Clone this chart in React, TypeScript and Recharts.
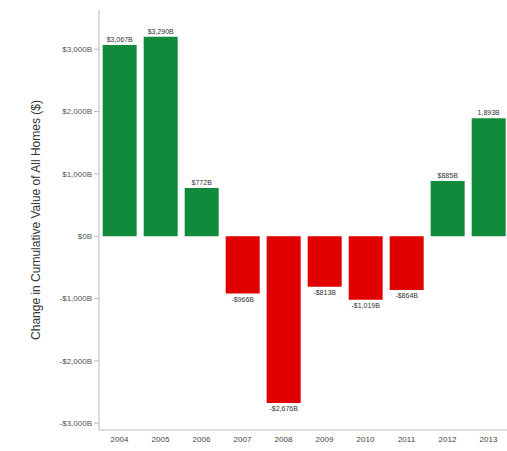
import React from "react";
import { BarChart, Bar, XAxis, YAxis, Cell, LabelList } from "recharts";

const years = ["2004", "2005", "2006", "2007", "2008", "2009", "2010", "2011", "2012", "2013"];
const changes = [3067, 3200, 772, -920, -2676, -813, -1019, -864, 885, 1893];
const valueLabels = ["$3,067B", "$3,290B", "$772B", "-$966B", "-$2,676B", "-$813B", "-$1,019B", "-$864B", "$885B", "1,893B"];
const yTicks = [3000, 2000, 1000, 0, -1000, -2000, -3000];

const data = years.map((y, i) => ({ year: y, value: changes[i], label: valueLabels[i] }));

const fmtTick = (v: number) => {
  if (v === 0) return "$0B";
  const s = Math.abs(v).toLocaleString("en-US");
  return (v < 0 ? "-$" : "$") + s + "B";
};

const GREEN = "#128a3c";
const RED = "#e00000";
const FONT = "Arial, 'Liberation Sans', sans-serif";

const BarLabel = (props: any) => {
  const { x, y, width, height, index } = props;
  const v = changes[index];
  const cx = x + width / 2;
  const top = Math.min(y, y + height);
  const bottom = Math.max(y, y + height);
  if (v >= 0) {
    return (
      <text x={cx} y={top - 3} textAnchor="middle" fontSize={7} fill="#333" fontFamily={FONT}>
        {valueLabels[index]}
      </text>
    );
  }
  return (
    <text x={cx} y={bottom + 8} textAnchor="middle" fontSize={7} fill="#333" fontFamily={FONT}>
      {valueLabels[index]}
    </text>
  );
};

export default function App() {
  return (
    <div style={{ position: "absolute", left: 0, top: 0, width: 507, height: 451, overflow: "hidden", background: "#fff" }}>
      <BarChart
        width={510}
        height={451}
        data={data}
        margin={{ top: 10, right: 1, bottom: 0, left: 0 }}
        barCategoryGap="9%"
      >
        <XAxis
          dataKey="year"
          tickLine={false}
          axisLine={{ stroke: "#bbb" }}
          height={21}
          tickMargin={0}
          tick={{ fontSize: 8, fill: "#444", fontFamily: FONT }}
          interval={0}
        />
        <YAxis
          type="number"
          domain={[-3110, 3630]}
          ticks={yTicks}
          tickFormatter={fmtTick}
          width={99}
          tickSize={5}
          tickMargin={2}
          axisLine={{ stroke: "#bbb" }}
          tickLine={{ stroke: "#bbb" }}
          tick={{ fontSize: 8, fill: "#555", fontFamily: FONT }}
          label={{
            value: "Change in Cumulative Value of All Homes ($)",
            angle: -90,
            position: "insideLeft",
            offset: 36,
            style: { textAnchor: "middle", fontSize: 12, fill: "#333", fontFamily: FONT },
          }}
        />
        <Bar dataKey="value" isAnimationActive={false}>
          {data.map((d, i) => (
            <Cell key={i} fill={d.value >= 0 ? GREEN : RED} />
          ))}
          <LabelList dataKey="label" content={<BarLabel />} />
        </Bar>
      </BarChart>
    </div>
  );
}
